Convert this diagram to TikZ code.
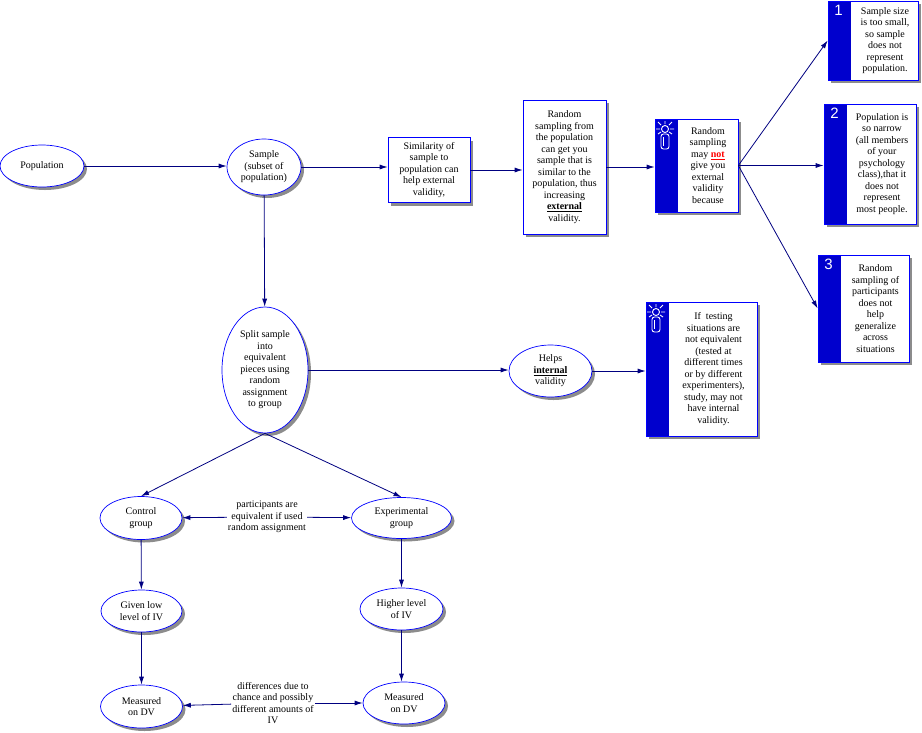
\documentclass[tikz,border=0pt]{standalone}
\usepackage{fontspec}
\setmainfont{Liberation Serif}
\setsansfont{Liberation Sans}
\usetikzlibrary{shapes}
\usetikzlibrary{shadows}
\usetikzlibrary{positioning}
\usetikzlibrary{arrows.meta}
\definecolor{navyline}{RGB}{0,0,128}
\definecolor{tipblue}{RGB}{0,0,205}
\definecolor{outblue}{RGB}{0,0,255}
\tikzset{
    ovalnode/.style = {ellipse, draw=outblue, line width=0.7pt, fill=white, inner sep=0pt, align=center,
        drop shadow={shadow xshift=3pt, shadow yshift=-3pt, fill=black!45, opacity=1}},
    boxnode/.style = {rectangle, draw=outblue, line width=0.7pt, fill=white, inner sep=2pt, align=center,
        drop shadow={shadow xshift=3pt, shadow yshift=-3pt, fill=black!45, opacity=1}},
    tipframe/.style = {rectangle, draw=outblue, line width=0.7pt, fill=white, inner sep=0pt,
        drop shadow={shadow xshift=3pt, shadow yshift=-3pt, fill=black!45, opacity=1},
        path picture={\fill[tipblue] (path picture bounding box.north west) rectangle ([xshift=23pt]path picture bounding box.south west);}},
    tiptext/.style = {align=center, inner sep=0pt},
    tipnum/.style = {text=white, font=\sffamily\fontsize{15}{15}\selectfont, inner sep=0pt},
    labnode/.style = {align=center, inner sep=1pt},
    edgen/.style = {-{Latex[length=8pt,width=5pt]}, line width=0.8pt, navyline},
    every node/.style = {font=\fontsize{10}{11.5}\selectfont}
}
% small lamp drawn on the blue strip
\newcommand{\drawbulb}[1]{%
  \begin{scope}[shift={(#1)}, white, line width=0.9pt]
    \draw (0,-5) -- (0,-8) (-4,-4) -- (-7,-7) (4,-4) -- (7,-7) (-5,0) -- (-9,0) (5,0) -- (9,0)
          (-4,3) -- (-7,5) (4,3) -- (7,5);
    \draw (0,0) circle (3.5);
    \draw[rounded corners=2.5] (-4,5) rectangle (4,20);
    \draw (-1.2,8) -- (-1.2,17);
  \end{scope}}

\begin{document}
\begin{tikzpicture}[x=1pt, y=-1pt]
\useasboundingbox (0,0) rectangle (922,732);
% top row
\node[ovalnode, minimum width=84pt, minimum height=42pt] at (42, 166) (pop) {Population};
\node[ovalnode, minimum width=74pt, minimum height=56pt] at (264, 167) (samp) {Sample\\(subset of\\population)};
\node[boxnode, minimum width=82pt, minimum height=65pt] at (429, 170) (simil) {Similarity of\\sample to\\population can\\help external\\validity,};
\node[boxnode, minimum width=83pt, minimum height=134pt] at (564.5, 167) (rand) {Random\\sampling from\\the population\\can get you\\sample that is\\similar to the\\population, thus\\increasing\\\underline{\textbf{external}}\\validity.};
% lamp box, external
\node[tipframe, minimum width=83pt, minimum height=93pt] at (696.5, 165.5) (tip1) {};
\node[tiptext] at (708, 165.5) (tip1t) {Random\\sampling\\may \textcolor{red}{\underline{\textbf{not}}}\\give you\\external\\validity\\because};
\drawbulb{665,129}
% reasons
\node[tipframe, minimum width=90pt, minimum height=79pt] at (873, 40.5) (why1) {};
\node[tiptext] at (885, 40.5) (why1t) {Sample size\\is too small,\\so sample\\does not\\represent\\population.};
\node[tipnum] at ([xshift=11pt, yshift=-10pt]why1.north west) {1};
\node[tipframe, minimum width=92pt, minimum height=120pt] at (870, 164) (why2) {};
\node[tiptext] at (882, 164) (why2t) {Population is\\so narrow\\(all members\\of your\\psychology\\class),that it\\does not\\represent\\most people.};
\node[tipnum] at ([xshift=11pt, yshift=-10pt]why2.north west) {2};
\node[tipframe, minimum width=91pt, minimum height=107pt] at (863.5, 308.5) (why3) {};
\node[tiptext] at (875.5, 308.5) (why3t) {Random\\sampling of\\participants\\does not\\help\\generalize\\across\\situations};
\node[tipnum] at ([xshift=11pt, yshift=-10pt]why3.north west) {3};
% middle row
\node[ovalnode, minimum width=86pt, minimum height=126pt] at (265, 370) (split) {Split sample\\into\\equivalent\\pieces using\\random\\assignment\\to group};
\node[ovalnode, minimum width=83pt, minimum height=52pt] at (550.5, 371) (helps) {Helps\\\underline{\textbf{internal}}\\validity};
\node[tipframe, minimum width=111pt, minimum height=134pt] at (701.5, 369) (tip2) {};
\node[tiptext] at (713.5, 369) (tip2t) {If\ \ testing\\situations are\\not equivalent\\(tested at\\different times\\or by different\\experimenters),\\study, may not\\have internal\\validity.};
\drawbulb{656,312}
% groups
\node[ovalnode, minimum width=82pt, minimum height=43pt] at (141, 518) (ctrl) {Control\\group};
\node[ovalnode, minimum width=100pt, minimum height=41pt] at (401.5, 518) (expr) {Experimental\\group};
\node[labnode] at (267, 517) (equiv) {participants are\\equivalent if used\\random assignment};
\node[ovalnode, minimum width=81pt, minimum height=42pt] at (141.5, 611) (low) {Given low\\level of IV};
\node[ovalnode, minimum width=83pt, minimum height=42pt] at (401.5, 609) (high) {Higher level\\of IV};
\node[ovalnode, minimum width=82pt, minimum height=43pt] at (141.5, 706.5) (dvl) {Measured\\on DV};
\node[ovalnode, minimum width=82pt, minimum height=42pt] at (404, 703) (dvr) {Measured\\on DV};
\node[labnode] at (273, 703) (diffs) {differences due to\\chance and possibly\\different amounts of\\IV};
%
\draw[edgen] (pop.east) -- (samp.west |- pop.east);
\draw[edgen] (samp) -- (simil.west |- samp);
\draw[edgen] (simil) -- (rand.west |- simil);
\draw[edgen] (rand) -- (tip1.west |- rand);
\draw[edgen] (tip1.east) -- (why1.west);
\draw[edgen] (tip1.east) -- (why2.west |- tip1.east);
\draw[edgen] (tip1.east) -- (why3.west);
\draw[edgen] (samp) -- (split);
\draw[edgen] (split) -- (helps.west |- split);
\draw[edgen] (helps) -- (tip2.west |- helps);
\draw[edgen] (split.south) -- (ctrl.north);
\draw[edgen] (split.south) -- (expr.north);
\draw[edgen] (equiv) -- (ctrl);
\draw[edgen] (equiv) -- (expr);
\draw[edgen] (ctrl) -- (low);
\draw[edgen] (low) -- (dvl);
\draw[edgen] (expr) -- (high);
\draw[edgen] (high) -- (high |- dvr.north);
\draw[edgen] (diffs) -- (dvl);
\draw[edgen] (diffs) -- (dvr);
\end{tikzpicture}
\end{document}
